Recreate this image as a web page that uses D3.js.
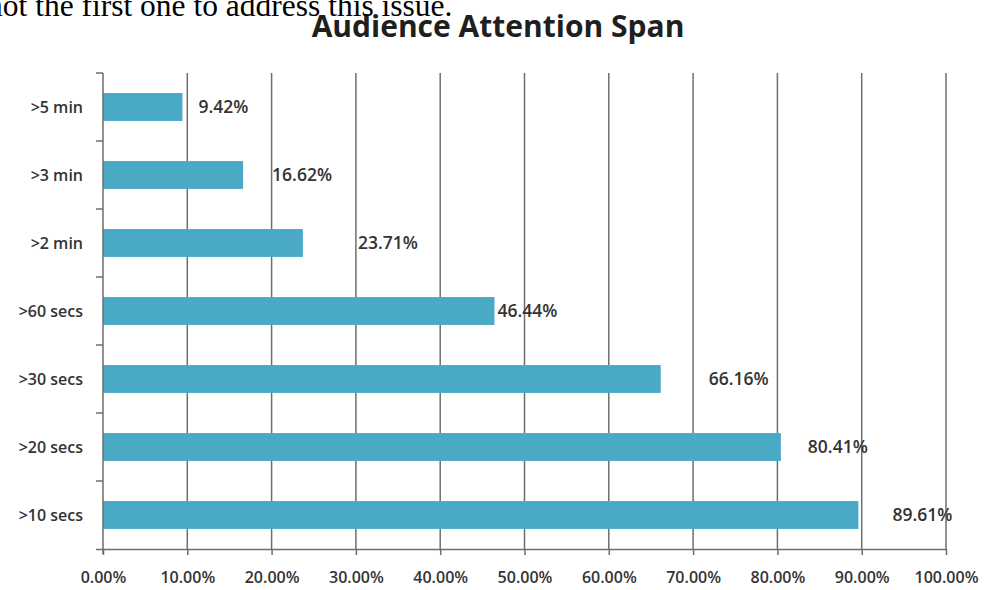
<!DOCTYPE html>
<html>
<head>
<meta charset="utf-8">
<script src="https://cdn.jsdelivr.net/npm/d3@7"></script>
<style>
  body { margin: 0; background: #fff; }
  svg { display: block; }
</style>
</head>
<body>
<svg id="chart" width="987" height="590"></svg>
<script>

const categories = ['>5 min', '>3 min', '>2 min', '>60 secs', '>30 secs', '>20 secs', '>10 secs'];
const values = [9.42, 16.62, 23.71, 46.44, 66.16, 80.41, 89.61];
const tickValues = [0, 10, 20, 30, 40, 50, 60, 70, 80, 90, 100];
// hand-placed label gaps in the original, in px after bar end
const labelGap = [16, 29, 55, 3, 48, 27, 34];

const svg = d3.select('#chart');
const margin = {top: 73, right: 41, bottom: 41, left: 103};
const width = 987 - margin.left - margin.right;
const height = 590 - margin.top - margin.bottom;

const x = d3.scaleLinear()
    .domain([0, 100])
    .range([margin.left, margin.left + width]);

const y = d3.scaleBand()
    .domain(categories)
    .range([margin.top, margin.top + height])
    .paddingInner(0.59)
    .paddingOuter(0.295);

const band = d3.scaleBand()
    .domain(categories)
    .range([margin.top, margin.top + height]);

// gridlines
svg.append('g')
    .selectAll('line')
    .data(tickValues.slice(1))
    .join('line')
    .attr('x1', d => x(d))
    .attr('x2', d => x(d))
    .attr('y1', margin.top)
    .attr('y2', margin.top + height)
    .style('stroke', '#8a8a8a')
    .style('stroke-width', 1.5);

// bars
svg.append('g')
    .selectAll('rect')
    .data(values)
    .join('rect')
    .attr('x', x(0))
    .attr('y', (d, i) => y(categories[i]))
    .attr('width', d => x(d) - x(0))
    .attr('height', y.bandwidth())
    .style('fill', '#4aaac6');

// x axis
const xAxis = svg.append('g')
    .attr('transform', `translate(0,${margin.top + height})`)
    .call(d3.axisBottom(x)
        .tickValues(tickValues)
        .tickSize(6)
        .tickSizeOuter(0)
        .tickPadding(17)
        .tickFormat(d => d.toFixed(2) + '%'));

xAxis.select('.domain')
    .attr('d', `M${x(0) - 7},0.5H${x(100)}`);

// y axis with ticks between categories
const yAxis = svg.append('g')
    .attr('transform', `translate(${x(0)},0)`);

yAxis.append('line')
    .attr('x1', 0).attr('x2', 0)
    .attr('y1', margin.top)
    .attr('y2', margin.top + height + 5);

yAxis.selectAll('.tick-mark')
    .data(categories)
    .join('line')
    .attr('class', 'tick-mark')
    .attr('x1', -7).attr('x2', 0)
    .attr('y1', d => band(d))
    .attr('y2', d => band(d));

yAxis.selectAll('text')
    .data(categories)
    .join('text')
    .attr('x', -20)
    .attr('y', d => band(d) + band.bandwidth() / 2)
    .attr('dy', '0.35em')
    .attr('text-anchor', 'end')
    .text(d => d);

svg.selectAll('.tick line, g > line:not(.tick-mark), .tick-mark, .domain')
    .style('stroke', '#6e6e6e')
    .style('stroke-width', 1.5);

svg.selectAll('.tick text, g text')
    .style('font-family', '"Open Sans", sans-serif')
    .style('font-size', '16px')
    .style('font-weight', 600)
    .style('fill', '#333');

// value labels
svg.append('g')
    .selectAll('text')
    .data(values)
    .join('text')
    .attr('x', (d, i) => x(d) + labelGap[i])
    .attr('y', (d, i) => band(categories[i]) + band.bandwidth() / 2)
    .attr('dy', '0.35em')
    .style('font-family', '"Open Sans", sans-serif')
    .style('font-size', '17.5px')
    .style('font-weight', 600)
    .style('fill', '#333')
    .text(d => d.toFixed(2) + '%');

// title
svg.append('text')
    .attr('x', 498)
    .attr('y', 37)
    .attr('text-anchor', 'middle')
    .style('font-family', '"Open Sans", sans-serif')
    .style('font-size', '30px')
    .style('font-weight', 700)
    .style('fill', '#1f1f1f')
    .text('Audience Attention Span');

// page text from the surrounding article, cut off at the top and left
svg.append('text')
    .attr('x', -13)
    .attr('y', 16)
    .style('font-family', '"Liberation Serif", "Times New Roman", serif')
    .style('font-size', '31.5px')
    .style('fill', '#000')
    .text('not the first one to address this issue.');

</script>
</body>
</html>
